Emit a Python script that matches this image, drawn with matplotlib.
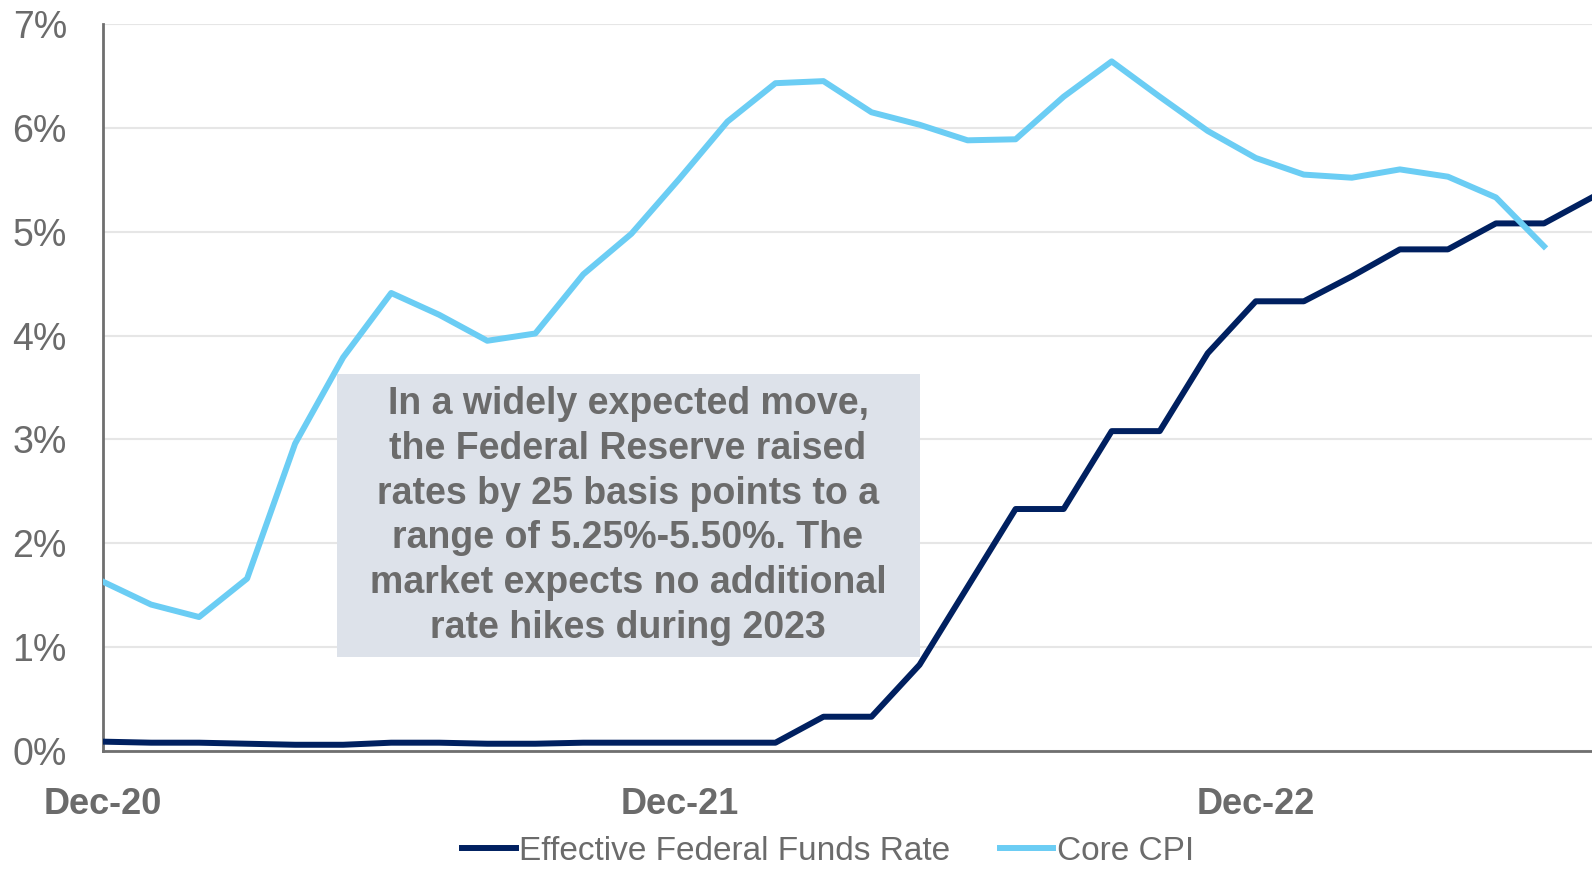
import matplotlib.pyplot as plt
from matplotlib.patches import Rectangle

# monthly, Dec-20 .. Jul-23
months = ['Dec-20', 'Jan-21', 'Feb-21', 'Mar-21', 'Apr-21', 'May-21', 'Jun-21', 'Jul-21',
          'Aug-21', 'Sep-21', 'Oct-21', 'Nov-21', 'Dec-21', 'Jan-22', 'Feb-22', 'Mar-22',
          'Apr-22', 'May-22', 'Jun-22', 'Jul-22', 'Aug-22', 'Sep-22', 'Oct-22', 'Nov-22',
          'Dec-22', 'Jan-23', 'Feb-23', 'Mar-23', 'Apr-23', 'May-23', 'Jun-23', 'Jul-23']

fed_funds = [0.09, 0.08, 0.08, 0.07, 0.06, 0.06, 0.08, 0.08, 0.07, 0.07, 0.08, 0.08,
             0.08, 0.08, 0.08, 0.33, 0.33, 0.83, 1.58, 2.33, 2.33, 3.08, 3.08, 3.83,
             4.33, 4.33, 4.57, 4.83, 4.83, 5.08, 5.08, 5.33]

core_cpi = [1.63, 1.41, 1.29, 1.66, 2.96, 3.79, 4.41, 4.20, 3.95, 4.02, 4.59, 4.98,
            5.51, 6.06, 6.43, 6.45, 6.15, 6.03, 5.88, 5.89, 6.30, 6.64, 6.30, 5.97,
            5.71, 5.55, 5.52, 5.60, 5.53, 5.33, 4.86]

tick_labels = ['Dec-20', 'Dec-21', 'Dec-22']
y_ticks = [0, 1, 2, 3, 4, 5, 6, 7]

note = ('In a widely expected move,\nthe Federal Reserve raised\nrates by 25 basis points to a\n'
        'range of 5.25%-5.50%. The\nmarket expects no additional\nrate hikes during 2023')

navy = '#002060'
light = '#6bcdf4'
grey = '#6b6b6b'

plt.rcParams['font.family'] = ['Liberation Sans', 'DejaVu Sans']

fig = plt.figure(figsize=(15.92, 8.69), dpi=100)
ax = fig.add_axes([103/1592, 1-751/869, 1-103/1592, (751-24)/869])

x_ff = list(range(len(fed_funds)))
x_cpi = list(range(len(core_cpi)))
ax.plot(x_ff, fed_funds, color=navy, lw=4.3, label='Effective Federal Funds Rate', zorder=3)
ax.plot(x_cpi, core_cpi, color=light, lw=4.3, label='Core CPI', zorder=3)

ax.set_xlim(0, 31)
ax.set_ylim(0, 7)
ax.set_yticks(y_ticks)
ax.set_yticklabels([f'{v}%' for v in y_ticks], fontsize=27, color=grey)
ax.set_xticks([months.index(t) for t in tick_labels])
ax.set_xticklabels(tick_labels, fontsize=26, color=grey, fontweight='bold')
ax.tick_params(axis='both', length=0)
ax.tick_params(axis='x', pad=26)
ax.tick_params(axis='y', pad=26)
ax.grid(axis='y', color='#e6e6e6', lw=1.5, zorder=0)
for s in ['top', 'right']:
    ax.spines[s].set_visible(False)
ax.spines['left'].set_color('#6f6f6f')
ax.spines['left'].set_linewidth(2)
ax.spines['bottom'].set_color('#6f6f6f')
ax.spines['bottom'].set_linewidth(2)
ax.spines['bottom'].set_zorder(4)

# annotation box
fig.patches.append(Rectangle((337/1592, 1-657/869), (920-337)/1592, (657-374)/869,
                             transform=fig.transFigure, facecolor='#dde2ea', edgecolor='none',
                             zorder=2))
fig.text(628/1592, 1-516/869, note, ha='center', va='center', fontsize=27,
         fontweight='bold', color=grey, linespacing=1.31, zorder=5)

leg = fig.legend(loc='center', bbox_to_anchor=(828/1592, 1-851/869), ncol=2, frameon=False,
                 handlelength=1.6, handletextpad=0.1, columnspacing=1.5,
                 borderpad=0.2, prop={'size': 24})
for t in leg.get_texts():
    t.set_color(grey)

fig.savefig('out.png', dpi=100)
